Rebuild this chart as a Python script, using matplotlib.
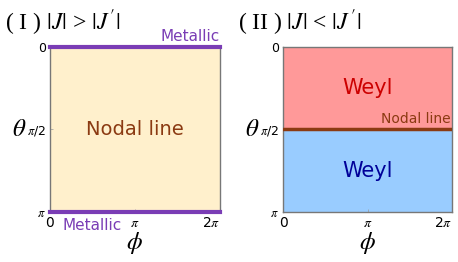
import numpy as np
import matplotlib
matplotlib.use("Agg")
import matplotlib.pyplot as plt

plt.rcParams["mathtext.fontset"] = "stix"

# phase diagram over (phi, theta)
phi_ticks = [0, np.pi, 2 * np.pi]
phi_labels = ["0", r"$\pi$", r"2$\pi$"]
theta_ticks = [0, np.pi / 2, np.pi]
theta_labels = ["0", r"$\pi$/2", r"$\pi$"]

titles = [r"( I ) $|J|$ > $|J\,'|$", r"( II ) $|J|$ < $|J\,'|$"]
metallic_theta = [0, np.pi]        # panel I boundaries
nodal_theta = np.pi / 2            # panel II boundary
weyl_bands = [(0, np.pi / 2), (np.pi / 2, np.pi)]

purple = "#7a3db5"
brown = "#8b3a12"

fig = plt.figure(figsize=(4.58, 2.62), dpi=100)
ax1 = fig.add_axes([0.109, 0.191, 0.371, 0.63])
ax2 = fig.add_axes([0.618, 0.191, 0.369, 0.63])

for ax, title, tx in [(ax1, titles[0], 0.01), (ax2, titles[1], 0.52)]:
    ax.set_xlim(0, 2 * np.pi)
    ax.set_ylim(np.pi, 0)
    ax.set_xticks(phi_ticks)
    ax.set_xticklabels(phi_labels, fontsize=10)
    ax.get_xticklabels()[-1].set_horizontalalignment("right")
    ax.set_yticks(theta_ticks)
    ax.set_yticklabels(theta_labels, fontsize=9)
    ax.tick_params(direction="in", length=2, width=0.5, color="#999999", pad=3)
    for s in ax.spines.values():
        s.set_color("#777777")
        s.set_linewidth(1)
    ax.set_xlabel(r"$\phi$", fontsize=18, labelpad=0)
    ax.set_ylabel(r"$\theta$", fontsize=18, rotation=0, labelpad=6, va="center")
    fig.text(tx, 0.915, title, fontsize=17, family="Liberation Serif", va="center")

# panel I
ax1.axhspan(0, np.pi, color="#fff0cc", zorder=0)
for t in metallic_theta:
    ax1.axhline(t, color=purple, lw=3, clip_on=False, zorder=3)
ax1.text(np.pi, np.pi / 2, "Nodal line", color=brown, fontsize=14,
         ha="center", va="center")
ax1.text(2 * np.pi, -0.06, "Metallic", color=purple, fontsize=11,
         ha="right", va="bottom")
ax1.text(0.45, np.pi + 0.12, "Metallic", color=purple, fontsize=11,
         ha="left", va="top")

# panel II
ax2.axhspan(*weyl_bands[0], color="#ff9999", zorder=0)
ax2.axhspan(*weyl_bands[1], color="#99ccff", zorder=0)
ax2.axhline(nodal_theta, color=brown, lw=2.5, zorder=3)
ax2.text(np.pi, np.pi / 4, "Weyl", color="#cc0000", fontsize=15,
         ha="center", va="center")
ax2.text(np.pi, 3 * np.pi / 4, "Weyl", color="#000099", fontsize=15,
         ha="center", va="center")
ax2.text(2 * np.pi - 0.05, nodal_theta - 0.06, "Nodal line", color=brown,
         fontsize=10, ha="right", va="bottom")

fig.savefig("out.png", dpi=100)
